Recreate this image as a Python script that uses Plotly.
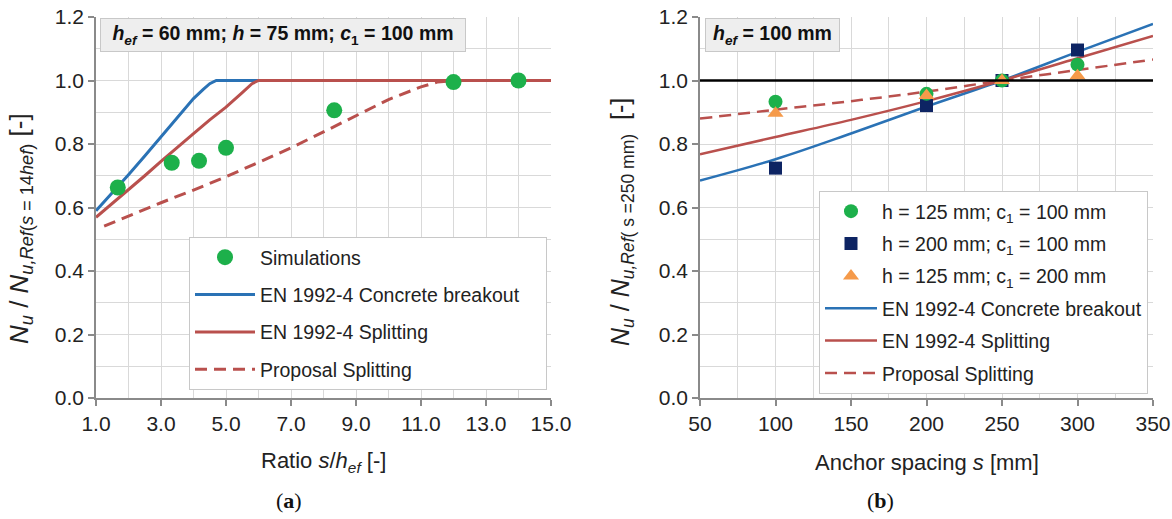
import plotly.graph_objects as go
from plotly.subplots import make_subplots

# ---------------- (a) data ----------------
ratio_sim = [1.67, 3.33, 4.17, 5.0, 8.33, 12.0, 14.0]
nu_sim = [0.663, 0.741, 0.747, 0.788, 0.906, 0.995, 1.0]

ratio_cb = [1.0, 1.5, 2.0, 2.5, 3.0, 3.5, 4.0, 4.3, 4.5, 4.7, 15.0]
nu_cb = [0.59, 0.645, 0.703, 0.762, 0.822, 0.885, 0.943, 0.972, 0.99, 1.0, 1.0]

ratio_sp = [1.0, 1.5, 2.0, 2.5, 3.0, 3.5, 4.0, 4.5, 5.0, 5.5, 5.8, 6.0, 15.0]
nu_sp = [0.569, 0.612, 0.655, 0.70, 0.745, 0.79, 0.833, 0.876, 0.916, 0.962, 0.99, 1.0, 1.0]

ratio_prop = [1.25, 2.0, 3.0, 4.0, 5.0, 6.0, 7.0, 8.0, 9.0, 10.0, 11.0, 11.5, 12.0, 15.0]
nu_prop = [0.541, 0.573, 0.615, 0.655, 0.697, 0.742, 0.788, 0.838, 0.89, 0.94, 0.98, 0.995, 1.0, 1.0]

# ---------------- (b) data ----------------
spacing_line = [50, 100, 150, 200, 250, 300, 350]
b_cb = [0.685, 0.752, 0.833, 0.918, 1.0, 1.09, 1.178]
b_sp = [0.768, 0.822, 0.876, 0.935, 1.0, 1.07, 1.14]
b_prop = [0.88, 0.908, 0.935, 0.965, 1.0, 1.033, 1.066]

spacing_pts = [100, 200, 250, 300]
h125_c100 = [0.933, 0.958, 1.0, 1.05]
h200_c100 = [0.724, 0.921, 1.0, 1.096]
h125_c200 = [0.897, 0.953, 1.0, 1.015]

BLUE = "#2a72b5"
RED = "#b9504d"
GREEN = "#1db04b"
NAVY = "#0d2463"
ORANGE = "#f59a4a"
GRID = "#d9d9d9"
AXIS = "#8a8a8a"
TXT = "#222222"
FONT = "Liberation Sans, Arial, sans-serif"
PAD = "&nbsp;&nbsp;&nbsp;&nbsp;"

fig = make_subplots(rows=1, cols=2)

# ---- left panel ----
fig.add_trace(go.Scatter(x=ratio_cb, y=nu_cb, mode="lines", name="EN 1992-4 Concrete breakout" + PAD,
                         line=dict(color=BLUE, width=3), legend="legend", legendgroup="a2", legendrank=2),
              row=1, col=1)
fig.add_trace(go.Scatter(x=ratio_sp, y=nu_sp, mode="lines", name="EN 1992-4 Splitting",
                         line=dict(color=RED, width=3), legend="legend", legendgroup="a3", legendrank=3),
              row=1, col=1)
fig.add_trace(go.Scatter(x=ratio_prop, y=nu_prop, mode="lines", name="Proposal Splitting",
                         line=dict(color=RED, width=3, dash="12px,7px"), legend="legend",
                         legendgroup="a4", legendrank=4),
              row=1, col=1)
fig.add_trace(go.Scatter(x=ratio_sim, y=nu_sim, mode="markers", name="Simulations",
                         marker=dict(color=GREEN, size=16, symbol="circle"), legend="legend",
                         legendgroup="a1", legendrank=1),
              row=1, col=1)

# ---- right panel ----
fig.add_trace(go.Scatter(x=spacing_line, y=b_cb, mode="lines", name="EN 1992-4 Concrete breakout",
                         line=dict(color=BLUE, width=2.5, shape="spline"), legend="legend2",
                         legendgroup="b4", legendrank=4), row=1, col=2)
fig.add_trace(go.Scatter(x=spacing_line, y=b_sp, mode="lines", name="EN 1992-4 Splitting",
                         line=dict(color=RED, width=2.5, shape="spline"), legend="legend2",
                         legendgroup="b5", legendrank=5), row=1, col=2)
fig.add_trace(go.Scatter(x=spacing_line, y=b_prop, mode="lines", name="Proposal Splitting",
                         line=dict(color=RED, width=2.5, dash="12px,7px", shape="spline"),
                         legend="legend2", legendgroup="b6", legendrank=6), row=1, col=2)
fig.add_trace(go.Scatter(x=spacing_pts, y=h200_c100, mode="markers", name="h = 200 mm; c<sub>1</sub> = 100 mm",
                         marker=dict(color=NAVY, size=13, symbol="square"), legend="legend2",
                         legendgroup="b2", legendrank=2), row=1, col=2)
fig.add_trace(go.Scatter(x=spacing_pts, y=h125_c100, mode="markers", name="h = 125 mm; c<sub>1</sub> = 100 mm",
                         marker=dict(color=GREEN, size=14, symbol="circle"), legend="legend2",
                         legendgroup="b1", legendrank=1), row=1, col=2)
fig.add_trace(go.Scatter(x=spacing_pts, y=h125_c200, mode="markers", name="h = 125 mm; c<sub>1</sub> = 200 mm",
                         marker=dict(color=ORANGE, size=14, symbol="triangle-up"), legend="legend2",
                         legendgroup="b3", legendrank=3), row=1, col=2)

fig.add_hline(y=1.0, line=dict(color="black", width=2.5), row=1, col=2)

W, H = 1172, 519
def px_x(p):
    return p / W
def px_y(p):
    return 1 - p / H

common_axis = dict(showline=True, linecolor=AXIS, linewidth=1.5, ticks="outside", tickcolor=AXIS,
                   ticklen=6, tickwidth=1.5, gridcolor=GRID, gridwidth=1, zeroline=False,
                   automargin=False, tickfont=dict(family=FONT, size=21, color=TXT))

fig.update_xaxes(domain=[px_x(96), px_x(551)], range=[1, 15], tick0=1, dtick=2, tickformat=".1f",
                 minor=dict(dtick=1, showgrid=True, gridcolor=GRID, ticks=""),
                 row=1, col=1, **common_axis)
fig.update_xaxes(domain=[px_x(700), px_x(1153)], range=[50, 350], tick0=50, dtick=50,
                 minor=dict(dtick=25, showgrid=True, gridcolor=GRID, ticks=""),
                 row=1, col=2, **common_axis)
for c in (1, 2):
    fig.update_yaxes(domain=[px_y(398), px_y(17)], range=[0, 1.2], dtick=0.2, tickformat=".1f",
                     minor=dict(dtick=0.1, showgrid=True, gridcolor=GRID, ticks=""),
                     row=1, col=c, **common_axis)

legend_style = dict(bgcolor="white", bordercolor="#c8c8c8", borderwidth=1,
                    font=dict(family=FONT, size=19.5, color=TXT), xref="paper", yref="paper",
                    xanchor="right", yanchor="top", traceorder="grouped")
fig.update_layout(
    width=W, height=H, margin=dict(l=0, r=0, t=0, b=0),
    plot_bgcolor="white", paper_bgcolor="white",
    showlegend=True,
    legend=dict(x=px_x(547), y=px_y(237), tracegroupgap=9, itemwidth=60, **legend_style),
    legend2=dict(x=px_x(1148), y=px_y(191), tracegroupgap=4, itemwidth=52, **legend_style),
)

# axis titles
title_font = dict(family=FONT, size=22, color=TXT)
fig.add_annotation(text="Ratio <i>s</i>/<i>h</i><sub><i>ef</i></sub> [-]", xref="paper", yref="paper",
                   x=px_x(323), y=px_y(462), xanchor="center", yanchor="middle", showarrow=False,
                   font=title_font)
fig.add_annotation(text="Anchor spacing <i>s</i> [mm]", xref="paper", yref="paper",
                   x=px_x(927), y=px_y(462), xanchor="center", yanchor="middle", showarrow=False,
                   font=title_font)
fig.add_annotation(text="<i>N</i><sub><i>u</i></sub> / <i>N</i><sub><i>u,Ref</i>(<i>s</i> = 14<i>hef</i>)</sub> [-]",
                   xref="paper", yref="paper", x=px_x(20), y=px_y(229), xanchor="center", yanchor="middle",
                   textangle=-90, showarrow=False, font=dict(family=FONT, size=26, color=TXT))
fig.add_annotation(text="<i>N</i><sub><i>u</i></sub> / <i>N</i><sub><i>u,Ref</i>( s =250 mm)</sub>  [-]",
                   xref="paper", yref="paper", x=px_x(622), y=px_y(222), xanchor="center", yanchor="middle",
                   textangle=-90, showarrow=False, font=dict(family=FONT, size=25, color=TXT))

box_font = dict(family=FONT, size=19.5, color="#111111")
fig.add_annotation(text="<b><i>h</i><sub><i>ef</i></sub> = 60 mm; <i>h</i> = 75 mm; <i>c</i><sub>1</sub> = 100 mm</b>",
                   xref="paper", yref="paper", x=px_x(283), y=px_y(34.5), xanchor="center", yanchor="middle",
                   showarrow=False, font=box_font, bgcolor="#eeeeee", bordercolor="#c8c8c8",
                   borderwidth=1, borderpad=3, width=358, height=26)
fig.add_annotation(text="<b><i>h</i><sub><i>ef</i></sub> = 100 mm</b>",
                   xref="paper", yref="paper", x=px_x(772), y=px_y(34.5), xanchor="center", yanchor="middle",
                   showarrow=False, font=box_font, bgcolor="#eeeeee", bordercolor="#c8c8c8",
                   borderwidth=1, borderpad=3, width=127, height=26)

cap_font = dict(family="Liberation Serif, DejaVu Serif, serif", size=22, color="#111111")
fig.add_annotation(text="(<b>a</b>)", xref="paper", yref="paper", x=px_x(289), y=px_y(500),
                   xanchor="center", yanchor="middle", showarrow=False, font=cap_font)
fig.add_annotation(text="(<b>b</b>)", xref="paper", yref="paper", x=px_x(880), y=px_y(500),
                   xanchor="center", yanchor="middle", showarrow=False, font=cap_font)

fig.write_html("out.html", config={"displayModeBar": False},
               post_script="document.body.style.margin='0px';")
